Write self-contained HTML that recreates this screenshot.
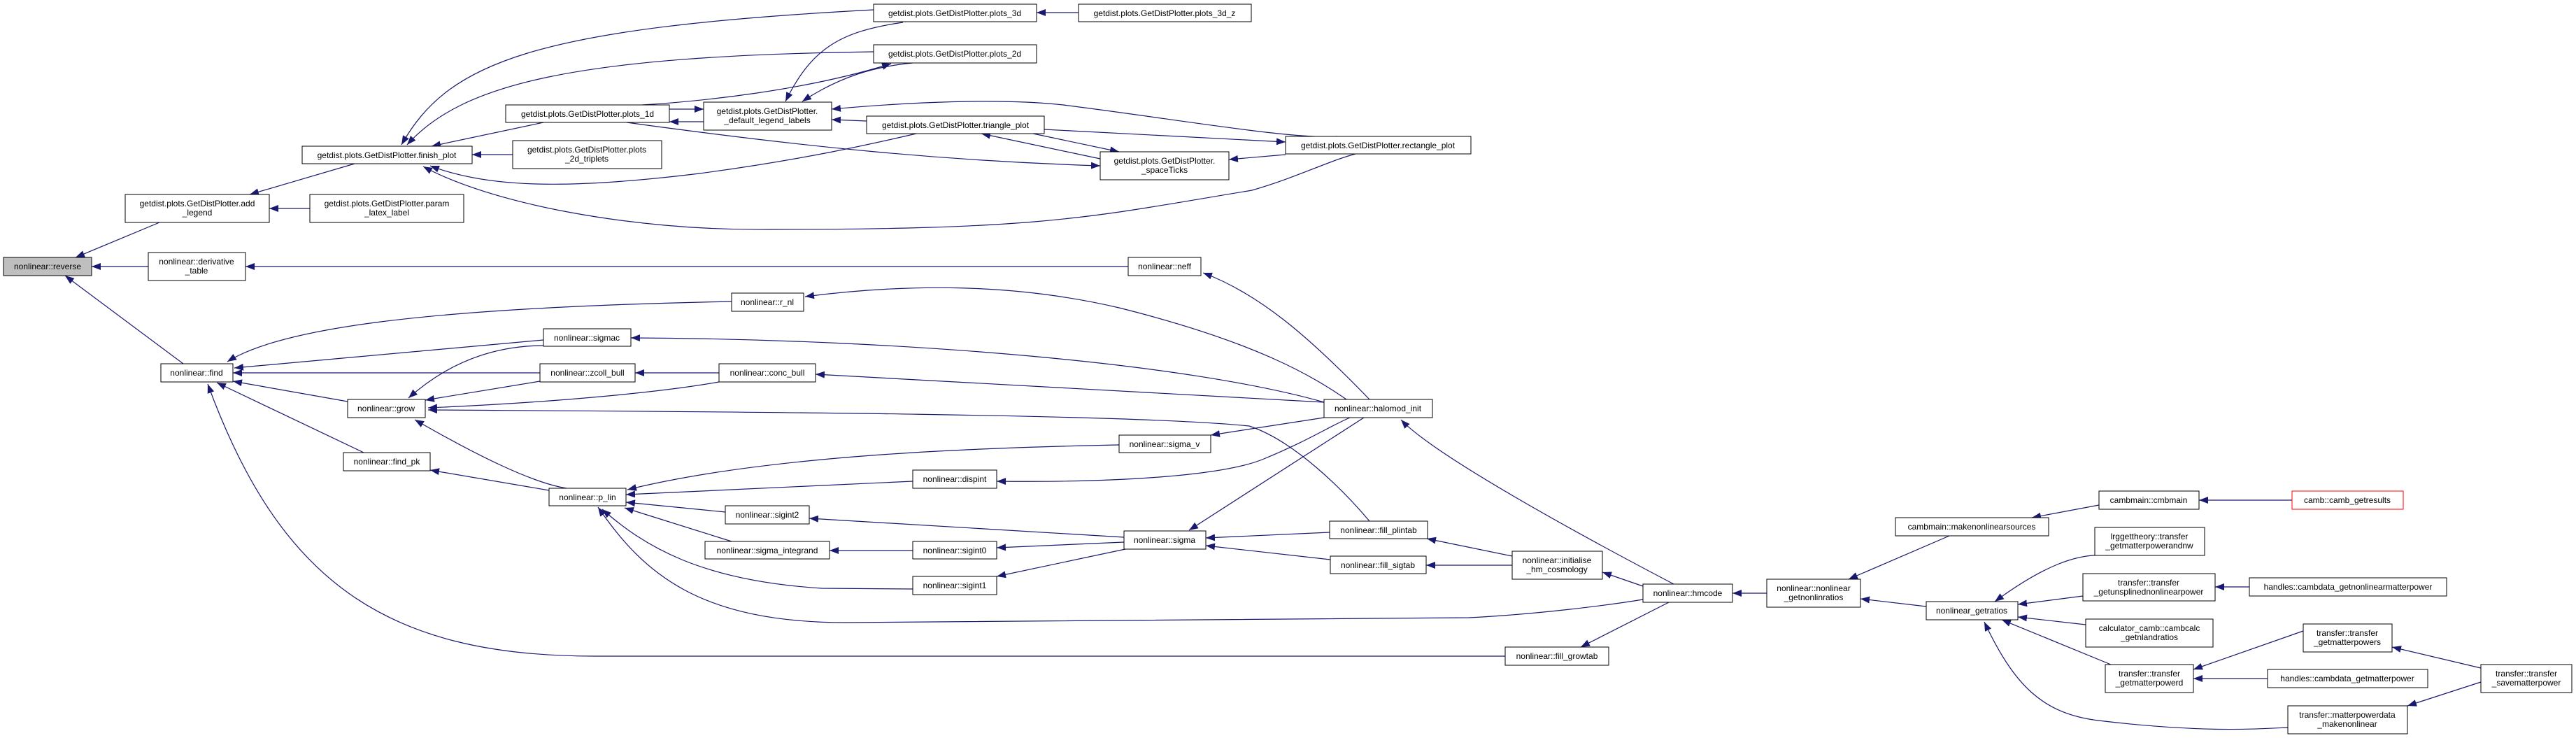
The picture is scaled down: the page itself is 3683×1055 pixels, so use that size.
<!DOCTYPE html>
<html><head><meta charset="utf-8"><style>
html,body{margin:0;padding:0;background:#fff;}
svg{display:block;}
text{font-family:"Liberation Sans",Arial,sans-serif;font-size:12px;fill:#000;}
.e{fill:none;stroke:#191970;stroke-width:1.2;marker-start:url(#a);}
.n{fill:#fff;stroke:#000;stroke-width:1;}
</style></head><body>
<svg width="3683" height="1055" viewBox="0 0 3683 1055" xmlns="http://www.w3.org/2000/svg">
<defs>
<marker id="a" viewBox="0 0 13 10" refX="13" refY="5" markerWidth="13" markerHeight="10" markerUnits="userSpaceOnUse" orient="auto-start-reverse">
<path d="M13,5 L0,0 L0,10 Z" fill="#191970"/>
</marker>
</defs>
<g>
<path class="e" d="M108,368 L228,318"/>
<path class="e" d="M131,381 L212,381"/>
<path class="e" d="M93,394 L262,520"/>
<path class="e" d="M357,278 L507,234"/>
<path class="e" d="M385,298 L443,298"/>
<path class="e" d="M617,209 L777,175"/>
<path class="e" d="M675,221 L733,221"/>
<path class="e" d="M574,207 C640,90 760,40 1249,14"/>
<path class="e" d="M582,207 C660,120 820,80 1249,74"/>
<path class="e" d="M615,237 C700,270 820,270 1000,248 C1150,228 1250,205 1310,191"/>
<path class="e" d="M605,238 C700,290 900,330 1100,328 C1500,328 1560,310 1790,272 C1850,255 1900,230 1938,220"/>
<path class="e" d="M1006,156 L957,156"/>
<path class="e" d="M957,174 L1006,174"/>
<path class="e" d="M1274,91 C1150,130 1000,145 918,150"/>
<path class="e" d="M1573,237 C1350,230 1150,210 896,175"/>
<path class="e" d="M1123,145 C1160,70 1200,45 1291,32"/>
<path class="e" d="M1147,145 C1200,110 1250,95 1305,90"/>
<path class="e" d="M1189,171 L1239,173"/>
<path class="e" d="M1189,156 C1300,146 1430,140 1520,150 C1680,170 1850,200 1912,195"/>
<path class="e" d="M1482,18 L1542,18"/>
<path class="e" d="M1838,203 L1493,185"/>
<path class="e" d="M1600,217 L1477,191"/>
<path class="e" d="M1403,191 L1573,227"/>
<path class="e" d="M1757,228 L1838,221"/>
<path class="e" d="M351,381 L1613,381"/>
<path class="e" d="M1720,390 C1800,420 1870,480 1958,571"/>
<path class="e" d="M1151,424 C1300,405 1450,405 1600,440 C1800,490 1880,540 1925,571"/>
<path class="e" d="M325,517 C400,470 600,440 1046,431"/>
<path class="e" d="M335,526 L777,486"/>
<path class="e" d="M902,483 C1300,485 1700,520 1893,575"/>
<path class="e" d="M333,533 L772,533"/>
<path class="e" d="M333,545 L497,574"/>
<path class="e" d="M310,547 L520,647"/>
<path class="e" d="M297,549 C400,830 550,938 850,938 L2152,938"/>
<path class="e" d="M584,569 C650,510 720,494 778,494"/>
<path class="e" d="M608,572 L772,545"/>
<path class="e" d="M612,583 C800,575 950,560 1028,546"/>
<path class="e" d="M612,586 C900,588 1600,590 1786,609 C1850,630 1920,700 1958,745"/>
<path class="e" d="M908,533 L1028,533"/>
<path class="e" d="M1166,535 L1893,575"/>
<path class="e" d="M593,600 C680,650 760,690 810,698"/>
<path class="e" d="M615,672 L785,701"/>
<path class="e" d="M897,700 C1100,650 1400,640 1600,636"/>
<path class="e" d="M895,707 L1305,688"/>
<path class="e" d="M895,718 L1037,732"/>
<path class="e" d="M893,726 L1046,774"/>
<path class="e" d="M861,728 C920,780 1000,830 1175,841 L1305,842"/>
<path class="e" d="M855,725 C920,820 1000,890 1210,890 L2100,883 C2200,878 2300,865 2349,857"/>
<path class="e" d="M1186,787 L1305,787"/>
<path class="e" d="M1157,741 L1607,768"/>
<path class="e" d="M1425,783 L1607,775"/>
<path class="e" d="M1425,824 L1609,785"/>
<path class="e" d="M1731,622 L1893,597"/>
<path class="e" d="M1425,688 C1600,690 1750,680 1807,656 C1870,630 1900,610 1930,597"/>
<path class="e" d="M1700,758 L1950,597"/>
<path class="e" d="M1724,769 L1901,761"/>
<path class="e" d="M1724,780 L1902,800"/>
<path class="e" d="M2040,770 L2162,795"/>
<path class="e" d="M2039,808 L2162,808"/>
<path class="e" d="M2003,600 C2050,650 2250,760 2393,835"/>
<path class="e" d="M2291,818 L2349,838"/>
<path class="e" d="M2260,925 L2386,861"/>
<path class="e" d="M2477,848 L2526,848"/>
<path class="e" d="M2643,828 L2787,766"/>
<path class="e" d="M2660,856 L2754,867"/>
<path class="e" d="M2905,740 L3001,722"/>
<path class="e" d="M3144,715 L3277,715"/>
<path class="e" d="M2852,860 C2920,810 2970,790 3013,794"/>
<path class="e" d="M2885,864 L2978,852"/>
<path class="e" d="M2885,882 L2982,893"/>
<path class="e" d="M2862,886 L3018,950"/>
<path class="e" d="M2837,889 C2880,980 2920,1020 3000,1030 C3150,1048 3230,1042 3271,1040"/>
<path class="e" d="M3167,839 L3216,839"/>
<path class="e" d="M3136,957 L3293,902"/>
<path class="e" d="M3136,970 L3242,970"/>
<path class="e" d="M3420,925 L3547,955"/>
<path class="e" d="M3442,1009 L3547,975"/>
</g>
<g>
<rect x="5" y="368" width="126" height="26" fill="#bfbfbf" stroke="#000"/><text x="68" y="385" text-anchor="middle">nonlinear::reverse</text>
<rect class="n" x="179" y="278" width="206" height="40"/><text x="282" y="295" text-anchor="middle">getdist.plots.GetDistPlotter.add</text><text x="282" y="308" text-anchor="middle">_legend</text>
<rect class="n" x="443" y="278" width="220" height="40"/><text x="553" y="295" text-anchor="middle">getdist.plots.GetDistPlotter.param</text><text x="553" y="308" text-anchor="middle">_latex_label</text>
<rect class="n" x="432" y="209" width="243" height="25"/><text x="553" y="226" text-anchor="middle">getdist.plots.GetDistPlotter.finish_plot</text>
<rect class="n" x="723" y="150" width="234" height="25"/><text x="840" y="167" text-anchor="middle">getdist.plots.GetDistPlotter.plots_1d</text>
<rect class="n" x="733" y="201" width="213" height="40"/><text x="839" y="218" text-anchor="middle">getdist.plots.GetDistPlotter.plots</text><text x="839" y="231" text-anchor="middle">_2d_triplets</text>
<rect class="n" x="212" y="361" width="139" height="40"/><text x="281" y="378" text-anchor="middle">nonlinear::derivative</text><text x="281" y="391" text-anchor="middle">_table</text>
<rect class="n" x="777" y="470" width="125" height="25"/><text x="839" y="487" text-anchor="middle">nonlinear::sigmac</text>
<rect class="n" x="230" y="520" width="103" height="26"/><text x="281" y="537" text-anchor="middle">nonlinear::find</text>
<rect class="n" x="772" y="520" width="136" height="26"/><text x="840" y="537" text-anchor="middle">nonlinear::zcoll_bull</text>
<rect class="n" x="497" y="571" width="111" height="26"/><text x="552" y="588" text-anchor="middle">nonlinear::grow</text>
<rect class="n" x="491" y="647" width="124" height="26"/><text x="553" y="664" text-anchor="middle">nonlinear::find_pk</text>
<rect class="n" x="785" y="698" width="110" height="25"/><text x="840" y="715" text-anchor="middle">nonlinear::p_lin</text>
<rect class="n" x="1249" y="6" width="233" height="25"/><text x="1365" y="23" text-anchor="middle">getdist.plots.GetDistPlotter.plots_3d</text>
<rect class="n" x="1542" y="6" width="247" height="25"/><text x="1665" y="23" text-anchor="middle">getdist.plots.GetDistPlotter.plots_3d_z</text>
<rect class="n" x="1249" y="64" width="233" height="26"/><text x="1365" y="81" text-anchor="middle">getdist.plots.GetDistPlotter.plots_2d</text>
<rect class="n" x="1006" y="146" width="183" height="40"/><text x="1097" y="163" text-anchor="middle">getdist.plots.GetDistPlotter.</text><text x="1097" y="176" text-anchor="middle">_default_legend_labels</text>
<rect class="n" x="1239" y="166" width="254" height="25"/><text x="1366" y="183" text-anchor="middle">getdist.plots.GetDistPlotter.triangle_plot</text>
<rect class="n" x="1573" y="217" width="184" height="40"/><text x="1665" y="234" text-anchor="middle">getdist.plots.GetDistPlotter.</text><text x="1665" y="247" text-anchor="middle">_spaceTicks</text>
<rect class="n" x="1838" y="195" width="265" height="25"/><text x="1970" y="212" text-anchor="middle">getdist.plots.GetDistPlotter.rectangle_plot</text>
<rect class="n" x="1613" y="368" width="104" height="26"/><text x="1665" y="385" text-anchor="middle">nonlinear::neff</text>
<rect class="n" x="1046" y="419" width="103" height="26"/><text x="1097" y="436" text-anchor="middle">nonlinear::r_nl</text>
<rect class="n" x="1028" y="520" width="138" height="26"/><text x="1097" y="537" text-anchor="middle">nonlinear::conc_bull</text>
<rect class="n" x="1893" y="571" width="155" height="26"/><text x="1970" y="588" text-anchor="middle">nonlinear::halomod_init</text>
<rect class="n" x="1600" y="622" width="131" height="25"/><text x="1665" y="639" text-anchor="middle">nonlinear::sigma_v</text>
<rect class="n" x="1305" y="672" width="120" height="26"/><text x="1365" y="689" text-anchor="middle">nonlinear::dispint</text>
<rect class="n" x="1037" y="723" width="120" height="26"/><text x="1097" y="740" text-anchor="middle">nonlinear::sigint2</text>
<rect class="n" x="1008" y="774" width="178" height="25"/><text x="1097" y="791" text-anchor="middle">nonlinear::sigma_integrand</text>
<rect class="n" x="1305" y="774" width="120" height="25"/><text x="1365" y="791" text-anchor="middle">nonlinear::sigint0</text>
<rect class="n" x="1305" y="824" width="120" height="26"/><text x="1365" y="841" text-anchor="middle">nonlinear::sigint1</text>
<rect class="n" x="1607" y="759" width="117" height="26"/><text x="1665" y="776" text-anchor="middle">nonlinear::sigma</text>
<rect class="n" x="1901" y="745" width="140" height="25"/><text x="1971" y="762" text-anchor="middle">nonlinear::fill_plintab</text>
<rect class="n" x="1902" y="795" width="137" height="25"/><text x="1970" y="812" text-anchor="middle">nonlinear::fill_sigtab</text>
<rect class="n" x="2162" y="788" width="129" height="40"/><text x="2226" y="805" text-anchor="middle">nonlinear::initialise</text><text x="2226" y="818" text-anchor="middle">_hm_cosmology</text>
<rect class="n" x="2349" y="835" width="128" height="26"/><text x="2413" y="852" text-anchor="middle">nonlinear::hmcode</text>
<rect class="n" x="2152" y="925" width="148" height="26"/><text x="2226" y="942" text-anchor="middle">nonlinear::fill_growtab</text>
<rect class="n" x="2526" y="828" width="134" height="40"/><text x="2593" y="845" text-anchor="middle">nonlinear::nonlinear</text><text x="2593" y="858" text-anchor="middle">_getnonlinratios</text>
<rect class="n" x="2710" y="740" width="219" height="26"/><text x="2819" y="757" text-anchor="middle">cambmain::makenonlinearsources</text>
<rect class="n" x="3001" y="702" width="143" height="26"/><text x="3072" y="719" text-anchor="middle">cambmain::cmbmain</text>
<rect x="3277" y="702" width="159" height="26" fill="#fff" stroke="#ff0000"/><text x="3356" y="719" text-anchor="middle">camb::camb_getresults</text>
<rect class="n" x="2754" y="860" width="131" height="26"/><text x="2819" y="877" text-anchor="middle">nonlinear_getratios</text>
<rect class="n" x="2995" y="754" width="157" height="40"/><text x="3073" y="771" text-anchor="middle">lrggettheory::transfer</text><text x="3073" y="784" text-anchor="middle">_getmatterpowerandnw</text>
<rect class="n" x="2978" y="820" width="189" height="39"/><text x="3072" y="837" text-anchor="middle">transfer::transfer</text><text x="3072" y="850" text-anchor="middle">_getunsplinednonlinearpower</text>
<rect class="n" x="3216" y="826" width="282" height="26"/><text x="3357" y="843" text-anchor="middle">handles::cambdata_getnonlinearmatterpower</text>
<rect class="n" x="2982" y="885" width="182" height="40"/><text x="3073" y="902" text-anchor="middle">calculator_camb::cambcalc</text><text x="3073" y="915" text-anchor="middle">_getnlandratios</text>
<rect class="n" x="3293" y="892" width="127" height="40"/><text x="3356" y="909" text-anchor="middle">transfer::transfer</text><text x="3356" y="922" text-anchor="middle">_getmatterpowers</text>
<rect class="n" x="3010" y="950" width="126" height="40"/><text x="3073" y="967" text-anchor="middle">transfer::transfer</text><text x="3073" y="980" text-anchor="middle">_getmatterpowerd</text>
<rect class="n" x="3242" y="957" width="229" height="26"/><text x="3356" y="974" text-anchor="middle">handles::cambdata_getmatterpower</text>
<rect class="n" x="3547" y="950" width="130" height="40"/><text x="3612" y="967" text-anchor="middle">transfer::transfer</text><text x="3612" y="980" text-anchor="middle">_savematterpower</text>
<rect class="n" x="3271" y="1009" width="171" height="40"/><text x="3356" y="1026" text-anchor="middle">transfer::matterpowerdata</text><text x="3356" y="1039" text-anchor="middle">_makenonlinear</text>
</g>
</svg>
</body></html>
